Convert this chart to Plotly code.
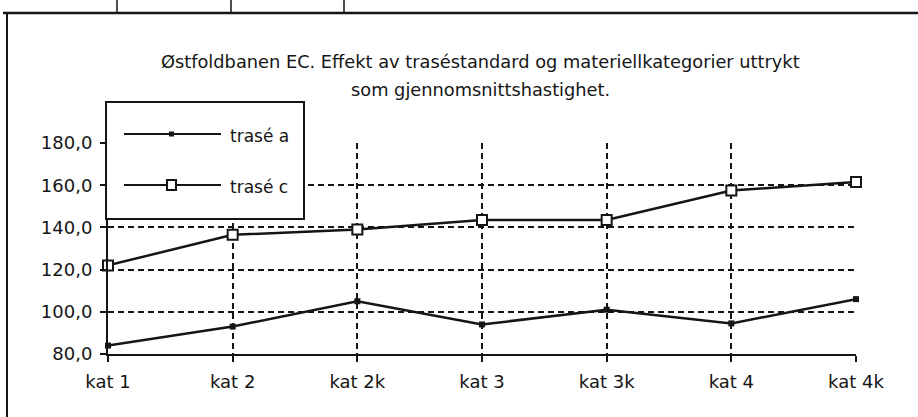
import plotly.graph_objects as go

# Categories (material categories) and average speeds per route standard
kategorier = ["kat 1", "kat 2", "kat 2k", "kat 3", "kat 3k", "kat 4", "kat 4k"]
trase_a = [84.0, 93.0, 105.0, 94.0, 101.0, 94.5, 106.0]
trase_c = [122.0, 136.5, 139.0, 143.5, 143.5, 157.5, 161.5]

tittel_linje1 = "Østfoldbanen EC. Effekt av traséstandard og materiellkategorier uttrykt"
tittel_linje2 = "som gjennomsnittshastighet."
serie_navn = ["trasé a", "trasé c"]

W, H = 918, 417
M_L, M_R, M_T, M_B = 108, 62, 143, 63
PW, PH = W - M_L - M_R, H - M_T - M_B

INK = "#151515"
FONT = "DejaVu Sans"


def px(x):
    """pixel x -> paper x"""
    return (x - M_L) / PW


def py(y):
    """pixel y (from top) -> paper y"""
    return (H - M_B - y) / PH


fig = go.Figure()

fig.add_trace(go.Scatter(
    x=kategorier, y=trase_a, name=serie_navn[0], mode="lines+markers",
    line=dict(color=INK, width=2.5),
    marker=dict(symbol="square", size=6, color=INK),
    cliponaxis=False, showlegend=False,
))
fig.add_trace(go.Scatter(
    x=kategorier, y=trase_c, name=serie_navn[1], mode="lines+markers",
    line=dict(color=INK, width=2.5),
    marker=dict(symbol="square", size=10, color="white",
                line=dict(color=INK, width=2)),
    cliponaxis=False, showlegend=False,
))

shapes = []
annotations = []

# Outer frame around the chart (top rule with cell dividers, left rule)
frame = dict(xref="paper", yref="paper", type="line", layer="above")
shapes.append(dict(frame, x0=px(3), x1=px(918), y0=py(13), y1=py(13),
                   line=dict(color=INK, width=2.5)))
shapes.append(dict(frame, x0=px(7), x1=px(7), y0=py(12), y1=py(417),
                   line=dict(color=INK, width=2)))
for xc in (117, 231, 344):
    shapes.append(dict(frame, x0=px(xc), x1=px(xc), y0=py(0), y1=py(13),
                       line=dict(color=INK, width=1.5)))

# Legend box
shapes.append(dict(type="rect", xref="paper", yref="paper", layer="above",
                   x0=px(106), x1=px(304), y0=py(219), y1=py(102),
                   fillcolor="white", line=dict(color=INK, width=2)))
leg_rows = [134, 185]
for i, yy in enumerate(leg_rows):
    shapes.append(dict(frame, x0=px(124), x1=px(221), y0=py(yy), y1=py(yy),
                       line=dict(color=INK, width=2)))
    annotations.append(dict(xref="paper", yref="paper", x=px(228), y=py(yy + 2),
                            text=serie_navn[i], showarrow=False,
                            xanchor="left", yanchor="middle",
                            font=dict(family=FONT, size=17, color=INK)))
# Legend symbols
shapes.append(dict(type="rect", xref="paper", yref="paper", layer="above",
                   x0=px(169), x1=px(174), y0=py(leg_rows[0] + 2.5),
                   y1=py(leg_rows[0] - 2.5), fillcolor=INK,
                   line=dict(color=INK, width=0)))
shapes.append(dict(type="rect", xref="paper", yref="paper", layer="above",
                   x0=px(167), x1=px(176), y0=py(leg_rows[1] + 5),
                   y1=py(leg_rows[1] - 5), fillcolor="white",
                   line=dict(color=INK, width=2)))

# Two-line title
for txt, yy in ((tittel_linje1, 62), (tittel_linje2, 89)):
    annotations.append(dict(xref="paper", yref="paper", x=px(480), y=py(yy),
                            text=txt, showarrow=False,
                            xanchor="center", yanchor="middle",
                            font=dict(family=FONT, size=17.8, color=INK)))

axis_common = dict(
    showline=True, linecolor=INK, linewidth=2,
    showgrid=True, gridcolor=INK, gridwidth=1.8, griddash="6px,4px",
    ticks="outside", ticklen=6, tickwidth=2, tickcolor=INK,
    tickfont=dict(family=FONT, size=18, color=INK),
    zeroline=False, mirror=False,
)

fig.update_layout(
    width=W, height=H,
    margin=dict(l=M_L, r=M_R, t=M_T, b=M_B, pad=0),
    paper_bgcolor="white", plot_bgcolor="white",
    separators=",.",
    showlegend=False,
    xaxis=dict(axis_common, type="category", range=[0, 6],
               categoryorder="array", categoryarray=kategorier,
               ticklabelstandoff=4),
    yaxis=dict(axis_common, range=[80, 180], dtick=20, tickformat=".1f",
               ticklabelstandoff=4),
    shapes=shapes,
    annotations=annotations,
)

fig.write_html("out.html")
